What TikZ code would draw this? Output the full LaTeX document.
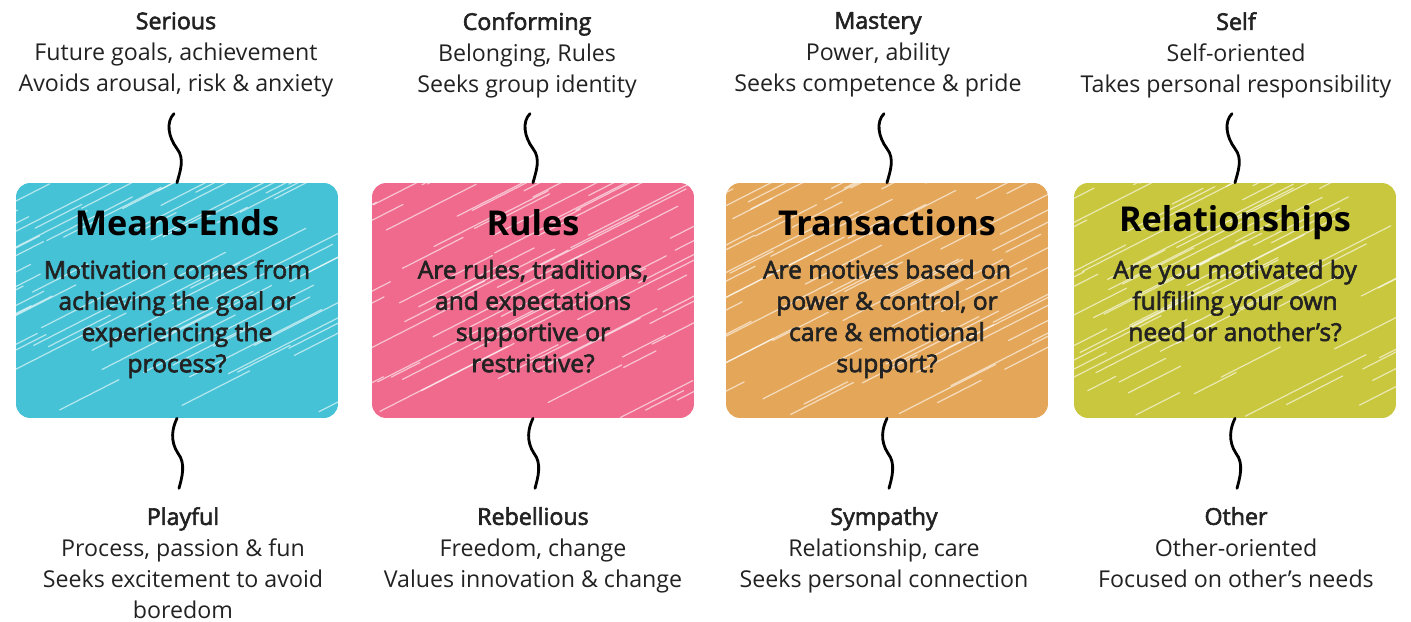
\documentclass[tikz,border=0pt]{standalone}
\usepackage{fontspec}
\setmainfont{Open Sans}
\newfontfamily\semifont[FakeBold=2.5]{Open Sans}
\usetikzlibrary{calc}

\definecolor{meanscol}{HTML}{45C2D5}
\definecolor{rulescol}{HTML}{EF6A8D}
\definecolor{transcol}{HTML}{E4A75A}
\definecolor{relacol}{HTML}{C9C73D}
\definecolor{inkcol}{HTML}{222222}

\tikzset{
  card/.style={fill=#1, rounded corners=0.28cm, minimum width=6.44cm, minimum height=4.7cm, inner sep=0pt},
  cardtitle/.style={text=black, font=\fontsize{19.5}{22}\selectfont\bfseries},
  cardtext/.style={anchor=north, align=center, text=inkcol, font=\fontsize{14}{17.75}\selectfont\semifont},
  label/.style={align=center, text=inkcol, font=\fontsize{13.2}{17.8}\selectfont},
  squiggle/.style={line width=1.6pt, line cap=round, black},
  hatch/.style={white, opacity=0.6, line width=0.7pt, line cap=round}
}

\newcommand{\hatchcard}[1]{%
  \begin{scope}
    \clip[rounded corners=0.28cm] (#1.south west) rectangle (#1.north east);
    \foreach \k in {1,...,75}{
      \pgfmathsetmacro{\hx}{rnd*420-110}
      \pgfmathsetmacro{\hy}{rnd*235}
      \pgfmathsetmacro{\hl}{30+rnd*130}
      \draw[hatch] ($(#1.north west)+(\hx,\hy)$) -- ++(-27:\hl);
    }
  \end{scope}}

\begin{document}
\begin{tikzpicture}[x=0.02cm,y=-0.02cm]
  \pgfmathsetseed{11}
  \useasboundingbox (0,0) rectangle (1411,622);

  % cards
  \node[card=meanscol] (means) at (177,300.5) {};
  \node[card=rulescol] (rules) at (533,300.5) {};
  \node[card=transcol] (trans) at (887,300.5) {};
  \node[card=relacol]  (rela)  at (1235,300.5) {};
  \hatchcard{means}
  \hatchcard{rules}
  \hatchcard{trans}
  \hatchcard{rela}

  \node[cardtitle] (meansTitle) at ($(means.north)+(0,40)$) {Means-Ends};
  \node[cardtitle] (rulesTitle) at ($(rules.north)+(0,40)$) {Rules};
  \node[cardtitle] (transTitle) at ($(trans.north)+(0,40)$) {Transactions};
  \node[cardtitle] (relaTitle)  at ($(rela.north)+(0,40)$)  {Relationships};

  \node[cardtext] (meansText) at ($(means.north)+(0,71)$) {Motivation comes from\\achieving the goal or\\experiencing the\\process?};
  \node[cardtext] (rulesText) at ($(rules.north)+(0,71)$) {Are rules, traditions,\\and expectations\\supportive or\\restrictive?};
  \node[cardtext] (transText) at ($(trans.north)+(0,71)$) {Are motives based on\\power \& control, or\\care \& emotional\\support?};
  \node[cardtext] (relaText)  at ($(rela.north)+(0,71)$)  {Are you motivated by\\fulfilling your own\\need or another’s?};

  % top labels
  \node[label, anchor=north] (serious) at (176,6) {{\semifont Serious}\\Future goals, achievement\\Avoids arousal, risk \& anxiety};
  \node[label, anchor=north] (conform) at (527,6) {{\semifont Conforming}\\Belonging, Rules\\Seeks group identity};
  \node[label, anchor=north] (mastery) at (878,6) {{\semifont Mastery}\\Power, ability\\Seeks competence \& pride};
  \node[label, anchor=north] (self)    at (1236,6) {{\semifont Self}\\Self-oriented\\Takes personal responsibility};

  % bottom labels
  \node[label, anchor=north] (playful) at (183,501) {{\semifont Playful}\\Process, passion \& fun\\Seeks excitement to avoid\\boredom};
  \node[label, anchor=north] (rebel)   at (533,501) {{\semifont Rebellious}\\Freedom, change\\Values innovation \& change};
  \node[label, anchor=north] (sympa)   at (884,501) {{\semifont Sympathy}\\Relationship, care\\Seeks personal connection};
  \node[label, anchor=north] (other)   at (1236,501) {{\semifont Other}\\Other-oriented\\Focused on other’s needs};

  % squiggles
  \foreach \c in {means,rules,trans,rela}{
    \coordinate (\c Top) at ($(\c.north)+(-3,-69)$);
    \coordinate (\c Bot) at ($(\c.south)+(2,70)$);
    \draw[squiggle] (\c Top) .. controls +(-8,8) and +(-9,-12) .. ++(3,35)
      .. controls +(8,10) and +(3,-11) .. (\c.north);
    \draw[squiggle] (\c.south) .. controls +(-5,10) and +(-8,-12) .. ++(1,35)
      .. controls +(8,10) and +(3,-11) .. (\c Bot);
  }
\end{tikzpicture}
\end{document}
